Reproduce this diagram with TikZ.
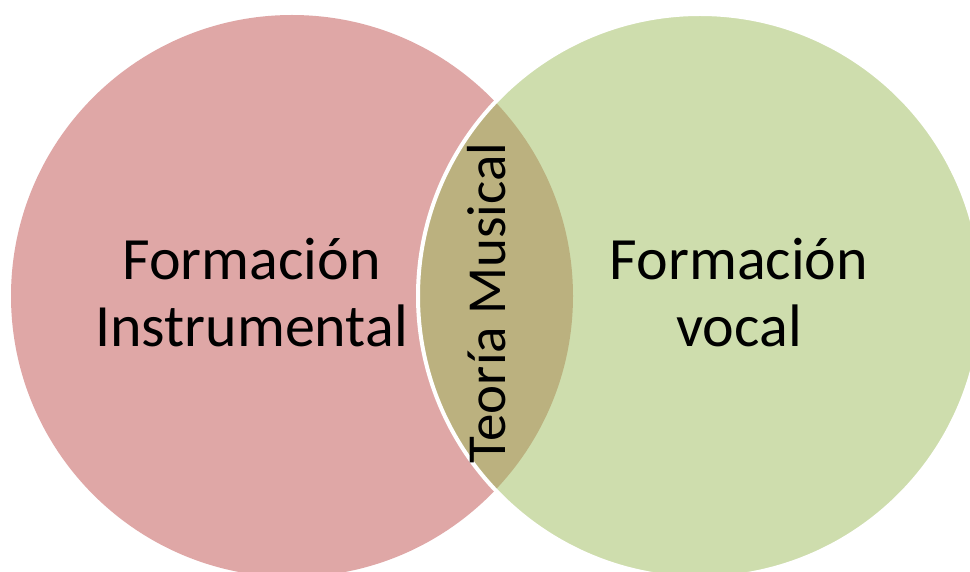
\documentclass[tikz,border=0pt]{standalone}
\usepackage{fontspec}
\setmainfont{Carlito}
\definecolor{leftfill}{RGB}{223,167,166}
\definecolor{rightfill}{RGB}{206,221,173}
\definecolor{lensfill}{RGB}{187,177,127}
\begin{document}
\begin{tikzpicture}[x=1pt,y=1pt,
  bigtext/.style={font=\fontsize{60}{66}\selectfont, text=black, anchor=base, inner sep=0pt},
  lenstext/.style={font=\fontsize{55}{60}\selectfont, text=black, anchor=base, inner sep=0pt, rotate=90}]
\useasboundingbox (0,0) rectangle (970,571);
\fill[white] (0,0) rectangle (970,571);
\begin{scope}
\clip (0,0) rectangle (970,571);
\fill[leftfill] (292,275) circle[radius=281];
\fill[rightfill] (700,275) circle[radius=282];
\begin{scope}
\clip (292,275) circle[radius=281];
\fill[lensfill] (700,275) circle[radius=282];
\end{scope}
\draw[white, line width=4pt] (700,275) circle[radius=282];
\end{scope}
\node[bigtext] (l1) at (251.5,291) {Formación};
\node[bigtext] (l2) at (251.5,224.5) {Instrumental};
\node[bigtext] (r1) at (739,291) {Formación};
\node[bigtext] (r2) at (739,224.5) {vocal};
\node[lenstext] (m) at (505,268) {Teoría Musical};
\end{tikzpicture}
\end{document}
